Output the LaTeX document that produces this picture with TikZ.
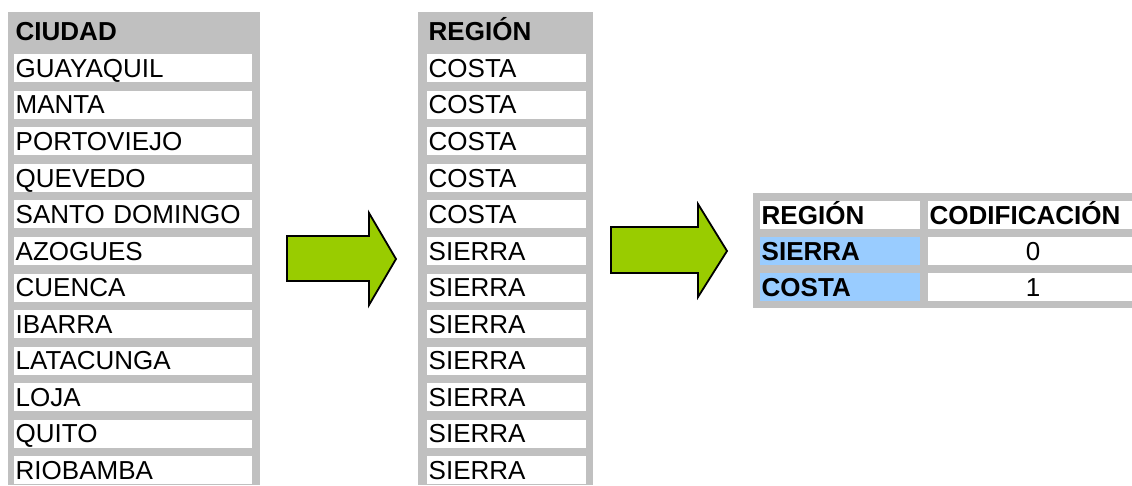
\documentclass[tikz,border=0pt]{standalone}
\usepackage{fontspec}
\setmainfont{Liberation Sans}
\tikzset{>=latex}
\definecolor{framegray}{HTML}{C0C0C0}
\definecolor{arrowgreen}{HTML}{99CC00}
\definecolor{codeblue}{HTML}{99CCFF}
\tikzset{
  cell/.style={fill=white, anchor=north west, inner xsep=1.5pt, inner ysep=0pt,
    minimum height=28pt, text height=18.4pt, text depth=0pt,
    font=\fontsize{26}{26}\selectfont, align=left},
  head/.style={cell, fill=none, font=\fontsize{26}{26}\selectfont\bfseries},
  citycell/.style={cell, text width=235pt},
  regioncell/.style={cell, text width=156pt},
  bigarrow/.style={draw=black, fill=arrowgreen, line width=1.8pt, line join=miter},
}

\begin{document}
\begin{tikzpicture}[x=1pt, y=-1pt]
  \useasboundingbox (0,0) rectangle (1132,485);

  % gray frames behind the three tables
  \fill[framegray] (8,12) rectangle (260,485);
  \fill[framegray] (418,12) rectangle (593,485);
  \fill[framegray] (753,193) rectangle (1140,308);

  % city -> region columns
  \node[head, text width=235pt] (ciudad) at (14,17) {CIUDAD};
  \node[head, text width=156pt] (region) at (427,17) {REGIÓN};
  \foreach \c/\r [count=\i from 0] in {GUAYAQUIL/COSTA, MANTA/COSTA,
      PORTOVIEJO/COSTA, QUEVEDO/COSTA, SANTO DOMINGO/COSTA, AZOGUES/SIERRA,
      CUENCA/SIERRA, IBARRA/SIERRA, LATACUNGA/SIERRA, LOJA/SIERRA,
      QUITO/SIERRA, RIOBAMBA/SIERRA} {
    \node[citycell] (city\i) at (14,{54+36.55*\i}) {\c};
    \node[regioncell] (reg\i) at (427,{54+36.55*\i}) {\r};
  }

  % arrows
  \draw[bigarrow] (287,236) -- (369,236) -- (369,213) -- (396,259)
    -- (369,305) -- (369,281) -- (287,281) -- cycle;
  \draw[bigarrow] (611,227) -- (698,227) -- (698,204) -- (727,251)
    -- (698,297) -- (698,273) -- (611,273) -- cycle;

  % coding table
  \node[head, fill=white, text width=157pt] (hregion) at (760,201) {REGIÓN};
  \node[head, fill=white, text width=207pt] (hcode) at (928,201) {CODIFICACIÓN};
  \node[head, fill=codeblue, text width=157pt] (sierra) at (760,237) {SIERRA};
  \node[cell, text width=207pt, align=center] (zero) at (928,237) {0};
  \node[head, fill=codeblue, text width=157pt] (costa) at (760,273) {COSTA};
  \node[cell, text width=207pt, align=center] (one) at (928,273) {1};
\end{tikzpicture}
\end{document}
